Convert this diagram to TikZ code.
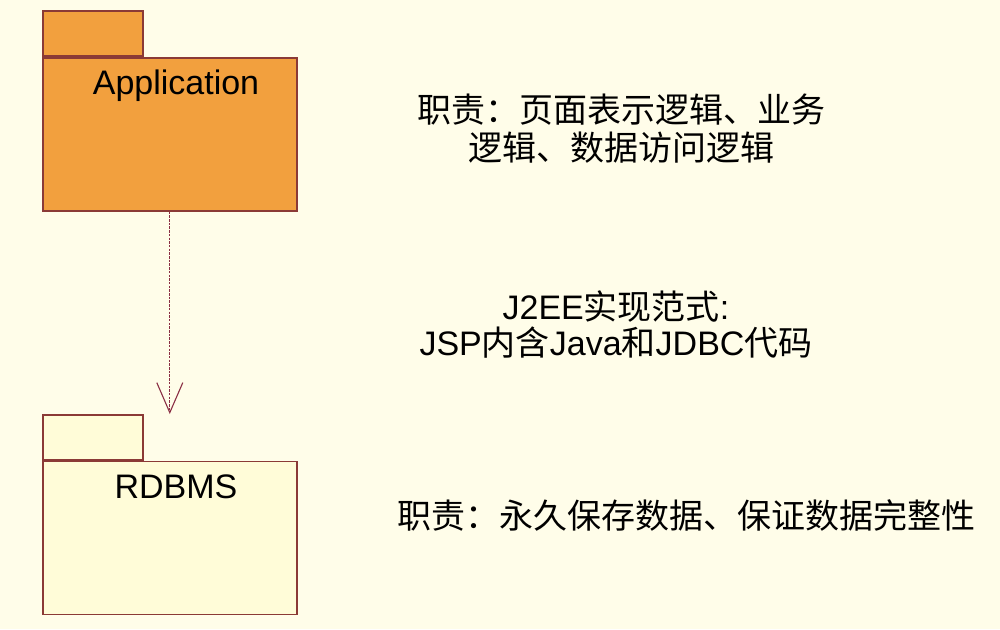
\documentclass[tikz,border=0pt]{standalone}
\usepackage{fontspec}
\setmainfont{Liberation Sans}
\newfontfamily\cjk{Noto Sans CJK SC}
\usetikzlibrary{positioning,arrows.meta}

\definecolor{paper}{HTML}{FFFDE9}
\definecolor{appfill}{HTML}{F2A03E}
\definecolor{dbfill}{HTML}{FFFCD8}
\definecolor{pkgline}{HTML}{8B3A36}
\definecolor{depline}{HTML}{8A2E44}

\begin{document}
\begin{tikzpicture}[
        x=1pt, y=-1pt,
        pkg/.style={draw=pkgline, line width=1.6pt, inner sep=0pt, minimum width=254pt, minimum height=153pt},
        pkgtab/.style={draw=pkgline, line width=1.6pt, inner sep=0pt, minimum width=100pt, minimum height=45pt, anchor=south west},
        pkgname/.style={font=\fontsize{34}{34}\selectfont},
        note/.style={align=center, font=\fontsize{34}{38}\selectfont\cjk},
        mixnote/.style={align=center, font=\fontsize{34}{36}\selectfont},
        dep/.style={draw=depline, line width=1.1pt, dash pattern=on 2.5pt off 1.2pt,
          -{Straight Barb[length=30pt, width=26pt, line width=1.1pt]}}
      ]

      \fill[paper] (0,0) rectangle (1000,629);

      % packages
      \node (App) [pkg, fill=appfill, anchor=north west] at (42,57) {};
      \node (AppTab) [pkgtab, fill=appfill] at (App.north west) {};
      \node (AppName) [pkgname] at (176,86) {Application};

      \node (DB) [pkg, fill=dbfill, below=249pt of App.south west, anchor=north west] {};
      \node (DBTab) [pkgtab, fill=dbfill] at (DB.north west) {};
      \node (DBName) [pkgname] at (176,487) {RDBMS};

      \coordinate (DepEnd) at (App.south |- DBTab.north);
      \path[dep] (App) -- (DepEnd);

      % notes
      \node (AppDuty) [note] at (621,129) {职责：页面表示逻辑、业务\\逻辑、数据访问逻辑};
      \node (J2EE) [mixnote] at (616,324) {J2EE{\cjk 实现范式}:\\JSP{\cjk 内含}Java{\cjk 和}JDBC{\cjk 代码}};
      \node (DBDuty) [note] at (686,515) {职责：永久保存数据、保证数据完整性};

    \end{tikzpicture}
\end{document}
